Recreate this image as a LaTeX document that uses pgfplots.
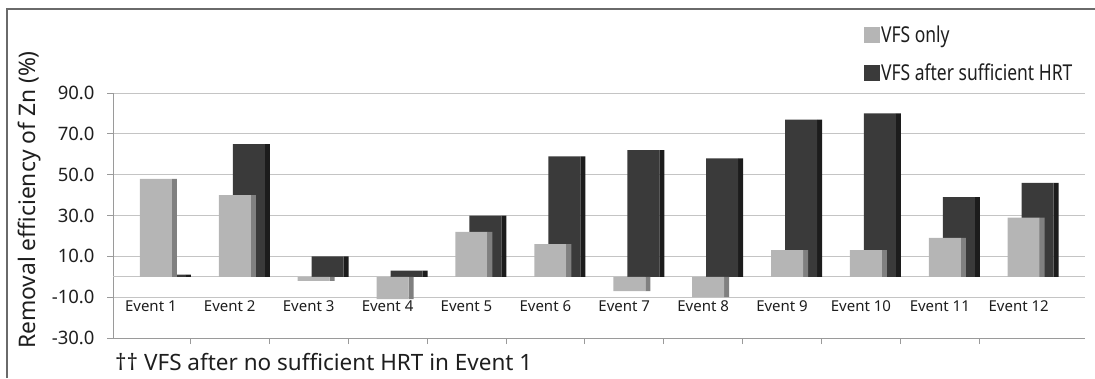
\documentclass[border=0pt]{standalone}
\usepackage{pgfplots}
\pgfplotsset{compat=1.18}
\usepackage{pgfplotstable}
\usepackage{fontspec}
\setmainfont{Noto Sans}

\definecolor{vfslight}{HTML}{B5B5B5}
\definecolor{vfslightside}{HTML}{808080}
\definecolor{hrtdark}{HTML}{3A3A3A}
\definecolor{hrtdarkside}{HTML}{1C1C1C}
\definecolor{gridgray}{HTML}{C4C4C4}
\definecolor{axisgray}{HTML}{9A9A9A}
\definecolor{framegray}{HTML}{6A6A6A}
\definecolor{txt}{HTML}{1E1E1E}

% Zn removal efficiency (%) per event
\pgfplotstableread{
x  vfs  hrt
0  48   1
1  40   65
2  -2   10
3  -11  3
4  22   30
5  16   59
6  -7   62
7  -10  58
8  13   77
9  13   80
10 19   39
11 29   46
}\zndata

\newcommand{\tallish}[1]{\scalebox{1}[1.25]{#1}}

\begin{document}
\begin{tikzpicture}
\path[use as bounding box] (0pt,0pt) rectangle (1095pt,378pt);
\draw[framegray, line width=1.3pt] (7pt,0pt) -- (7pt,369pt) -- (1095pt,369pt);
\begin{axis}[
  at={(113pt,40pt)}, anchor=south west,
  scale only axis, width=972pt, height=245pt,
  xmin=-0.48, xmax=11.84, ymin=-30, ymax=90,
  axis lines*=left,
  axis line style={axisgray, line width=0.8pt},
  ytick={-30,-10,...,90},
  ymajorgrids, grid style={gridgray, line width=0.8pt},
  extra y ticks={0}, extra y tick labels={},
  extra y tick style={major tick length=0pt, grid=major},
  tick align=outside, major tick length=6pt,
  ytick style={axisgray, line width=0.8pt},
  /pgf/number format/assume math mode=true,
  yticklabel style={/pgf/number format/fixed, /pgf/number format/fixed zerofill,
    /pgf/number format/precision=1, font=\fontsize{18.5}{20}\selectfont, text=txt,
    xshift=-9pt},
  xtick={0,...,11},
  xticklabels={Event 1,Event 2,Event 3,Event 4,Event 5,Event 6,Event 7,Event 8,Event 9,Event 10,Event 11,Event 12},
  xtick style={draw=none},
  xticklabel style={anchor=center, yshift=38pt, font=\fontsize{15}{17}\selectfont, text=txt},
  extra x ticks={0.5,1.5,...,10.5}, extra x tick labels={},
  extra x tick style={major tick length=6pt, xtick style={draw=axisgray, line width=0.8pt}},
  ylabel={Removal efficiency of Zn (\%)},
  ylabel style={at={(axis description cs:-0.0854,0.563)}, anchor=center,
    font=\fontsize{22.8}{25}\selectfont, text=txt},
  reverse legend,
  legend image code/.code={\fill[#1] (0pt,-8pt) rectangle (16pt,8pt);},
  legend style={at={(0.772,1.28)}, anchor=north west, draw=none, fill=none,
    inner sep=0pt, font=\fontsize{17.5}{20}\selectfont, text=txt, row sep=17pt,
    nodes={inner sep=1.5pt}},
  legend cell align=left,
]
% dark series sits behind, light series in front; thin strips give the side faces
\addplot[ybar, bar width=5pt, bar shift=37.5pt, fill=hrtdarkside, draw=none, forget plot] table[x=x,y=hrt]{\zndata};
\addplot[ybar, bar width=32pt, bar shift=19pt, fill=hrtdark, draw=none] table[x=x,y=hrt]{\zndata};
\addlegendentry{\tallish{VFS after sufficient HRT}}
\addplot[ybar, bar width=5pt, bar shift=23.5pt, fill=vfslightside, draw=none, forget plot] table[x=x,y=vfs]{\zndata};
\addplot[ybar, bar width=32pt, bar shift=5pt, fill=vfslight, draw=none] table[x=x,y=vfs]{\zndata};
\addlegendentry{\tallish{VFS only}}
\end{axis}
\node[anchor=west, font=\fontsize{22.5}{25}\selectfont, text=txt, inner sep=0pt] at (115pt,16pt) {†† VFS after no sufficient HRT in Event 1};
\end{tikzpicture}
\end{document}
